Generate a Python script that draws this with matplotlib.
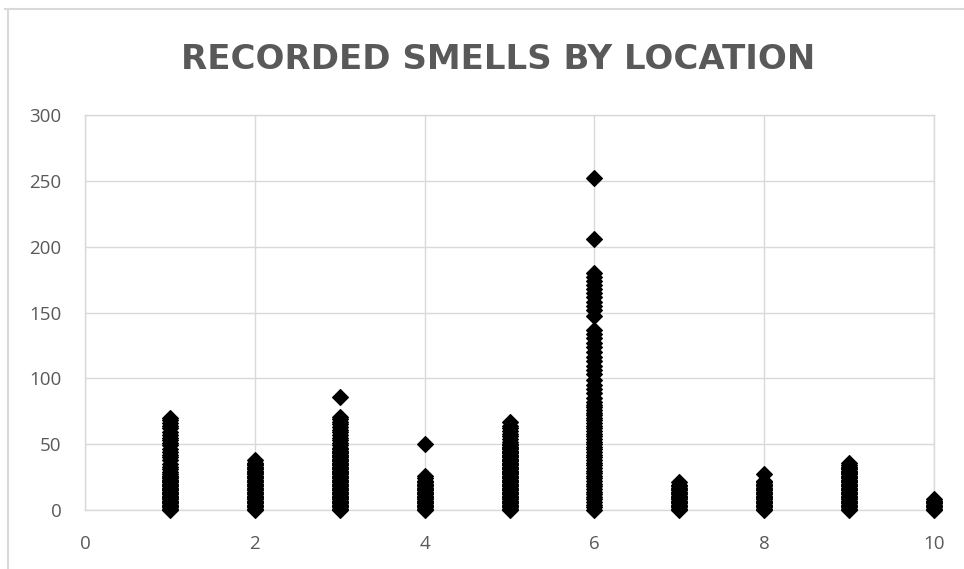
import matplotlib as mpl
mpl.use("Agg")
import matplotlib.pyplot as plt
from matplotlib.lines import Line2D

# recorded smell counts per location
loc1 = [0, 1, 2, 3, 4, 5, 6, 7, 8, 9, 10, 11, 12, 13, 14, 15, 16, 17, 18, 19, 20, 21, 22, 23, 24,
        25, 26, 27, 29, 31, 33, 35, 38, 40, 42, 44, 46, 49, 51, 53, 55, 57, 59, 62, 64, 66, 68, 70]
loc2 = [0, 1, 2, 3, 4, 5, 6, 7, 8, 9, 10, 11, 12, 13, 14, 15, 16, 17, 18, 19, 20, 21, 22, 23, 24,
        25, 26, 27, 28, 29, 30, 31, 32, 33, 34, 35, 36, 38]
loc3 = [0, 1, 2, 3, 4, 5, 6, 7, 8, 9, 10, 11, 12, 13, 14, 15, 16, 17, 18, 19, 20, 21, 22, 23, 24,
        25, 26, 27, 28, 29, 30, 31, 32, 33, 34, 35, 36, 37, 38, 39, 40, 41, 42, 43, 44, 45, 46, 47,
        49, 51, 53, 55, 57, 59, 61, 63, 65, 67, 69, 71, 86]
loc4 = [0, 1, 2, 3, 4, 5, 6, 7, 8, 9, 10, 11, 12, 13, 14, 15, 16, 17, 18, 19, 20, 21, 22, 24, 26,
        50]
loc5 = [0, 1, 2, 3, 4, 5, 6, 7, 8, 9, 10, 11, 12, 13, 14, 15, 16, 17, 18, 19, 20, 21, 22, 23, 24,
        25, 26, 27, 28, 29, 30, 31, 32, 33, 34, 35, 36, 37, 38, 39, 40, 41, 42, 43, 44, 45, 46, 47,
        48, 49, 50, 52, 54, 56, 58, 60, 62, 64, 67]
loc6 = [0, 2, 4, 6, 8, 10, 12, 14, 16, 18, 20, 22, 24, 26, 28, 30, 32, 34, 36, 38, 40, 42, 44, 46,
        48, 50, 52, 54, 56, 58, 60, 62, 64, 66, 68, 70, 72, 74, 76, 78, 80, 82, 85, 89, 92, 95, 99,
        103, 106, 109, 113, 116, 120, 124, 127, 131, 134, 137, 147, 152, 155, 158, 162, 165, 168,
        171, 174, 177, 180, 206, 252]
loc7 = [0, 1, 2, 3, 4, 5, 6, 7, 8, 9, 10, 11, 12, 13, 14, 15, 16, 17, 18, 19, 21]
loc8 = [0, 1, 2, 3, 4, 5, 6, 7, 8, 9, 10, 11, 12, 13, 14, 15, 16, 17, 18, 19, 20, 21, 22, 27]
loc9 = [0, 1, 2, 3, 4, 5, 6, 7, 8, 9, 10, 11, 12, 13, 14, 15, 16, 17, 18, 19, 20, 21, 22, 23, 24,
        25, 26, 27, 28, 29, 30, 31, 32, 33, 34, 36]
loc10 = [0, 1, 2, 3, 4, 5, 6, 7, 8]
counts = [loc1, loc2, loc3, loc4, loc5, loc6, loc7, loc8, loc9, loc10]

GRID = "#d9d9d9"
TXT = "#595959"
plt.rcParams["font.family"] = ["Open Sans", "DejaVu Sans"]

fig = plt.figure(figsize=(9.64, 5.69), dpi=100)
ax = fig.add_axes([85 / 964, 59 / 569, 849 / 964, 395 / 569])

for loc, vals in enumerate(counts, start=1):
    ax.plot([loc] * len(vals), vals, ls="none", marker="D", ms=8.5, color="black",
            mec="black", mew=0.8, clip_on=False, zorder=3)

ax.set_xlim(0, 10)
ax.set_ylim(0, 300)
ax.set_xticks(range(0, 11, 2))
ax.set_yticks(range(0, 301, 50))
ax.grid(True, color=GRID, lw=1.0)
ax.set_axisbelow(True)
for sp in ax.spines.values():
    sp.set_color(GRID)
    sp.set_linewidth(1.0)
ax.tick_params(length=0, labelsize=13.5, labelcolor=TXT)
ax.tick_params(axis="y", pad=17)
ax.tick_params(axis="x", pad=18)

# Excel title is letter-spaced; the wider DejaVu bold gets close to its extent
fig.text(498 / 964, 1 - 69 / 569, "RECORDED SMELLS BY LOCATION", ha="center", va="baseline",
         fontsize=24.5, fontweight="bold", color=TXT, family=["DejaVu Sans"])

# chart-area frame (cropped at right and bottom)
fig.add_artist(Line2D([5 / 964, 1], [1 - 9 / 569] * 2, color=GRID, lw=1.5))
fig.add_artist(Line2D([8 / 964] * 2, [0, 1 - 9 / 569], color=GRID, lw=1.5))

fig.savefig("out.png", dpi=100)
